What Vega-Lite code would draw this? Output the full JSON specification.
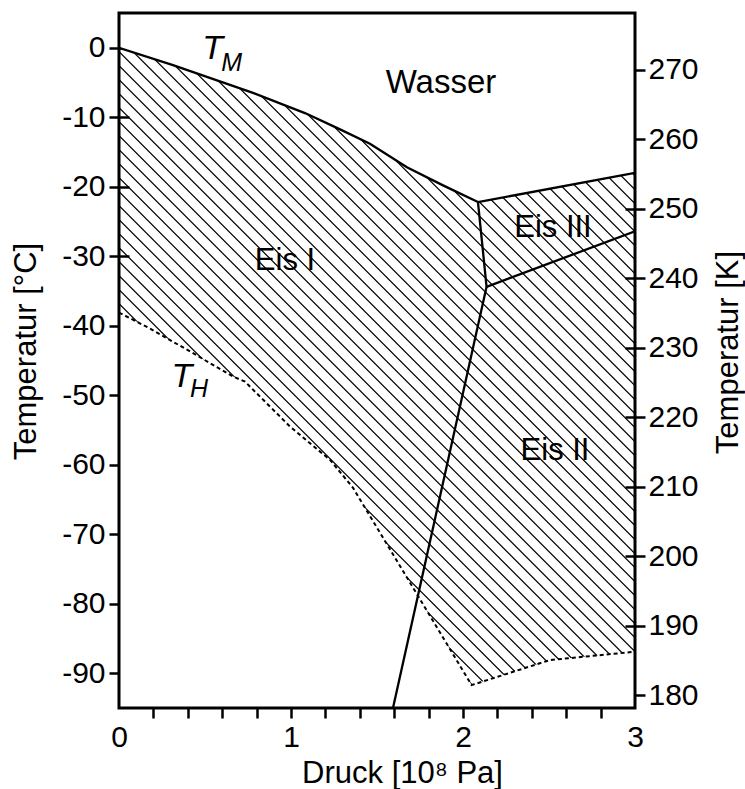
{
  "$schema": "https://vega.github.io/schema/vega-lite/v6.json",
  "width": 516,
  "height": 695,
  "autosize": {"type": "none"},
  "padding": {"left": 119, "top": 13, "right": 110, "bottom": 81},
  "background": "white",
  "view": {"stroke": null},
  "config": {
    "font": "Liberation Sans",
    "axis": {
      "domain": false,
      "grid": false,
      "tickSize": 20,
      "offset": -10,
      "tickColor": "black",
      "tickWidth": 2.5,
      "labelFontSize": 30,
      "labelColor": "black",
      "labelFlush": false,
      "labelOverlap": false,
      "titleFontSize": 31,
      "titleFontWeight": "normal",
      "titleColor": "black",
      "zindex": 1
    }
  },
  "datasets": {
    "hatch": [{"p": -0.308, "T": -89.75}, {"p": 3.308, "T": -0.25}],
    "upper": [
      {"p": 0, "T": 0}, {"p": 0.314, "T": -2.49}, {"p": 0.779, "T": -6.5}, {"p": 1.081, "T": -9.4},
      {"p": 1.273, "T": -11.6}, {"p": 1.459, "T": -13.8}, {"p": 1.674, "T": -17.2}, {"p": 1.884, "T": -19.8},
      {"p": 2.087, "T": -22.2}, {"p": 3, "T": -18.0}
    ],
    "th": [
      {"p": 0, "T": -38.1}, {"p": 0.18, "T": -40.4}, {"p": 0.413, "T": -43.7}, {"p": 0.663, "T": -47.3},
      {"p": 0.733, "T": -48.05}, {"p": 0.994, "T": -54.5}, {"p": 1.227, "T": -59.3}, {"p": 1.36, "T": -63.3},
      {"p": 2.05, "T": -91.7}, {"p": 2.506, "T": -88.1}, {"p": 3, "T": -86.9}
    ],
    "lines": [
      {"seg": "TM", "p": 0, "T": 0}, {"seg": "TM", "p": 0.314, "T": -2.49}, {"seg": "TM", "p": 0.779, "T": -6.5},
      {"seg": "TM", "p": 1.081, "T": -9.4}, {"seg": "TM", "p": 1.273, "T": -11.6}, {"seg": "TM", "p": 1.459, "T": -13.8},
      {"seg": "TM", "p": 1.674, "T": -17.2}, {"seg": "TM", "p": 1.884, "T": -19.8}, {"seg": "TM", "p": 2.087, "T": -22.2},
      {"seg": "IIIL", "p": 2.087, "T": -22.2}, {"seg": "IIIL", "p": 3, "T": -18.0},
      {"seg": "I_III", "p": 2.087, "T": -22.2}, {"seg": "I_III", "p": 2.137, "T": -34.4},
      {"seg": "II_III", "p": 2.137, "T": -34.4}, {"seg": "II_III", "p": 3, "T": -26.4},
      {"seg": "I_II", "p": 1.593, "T": -95}, {"seg": "I_II", "p": 2.137, "T": -34.4}
    ],
    "labels": [
      {"p": 0.965, "T": -31.98, "text": "Eis I"},
      {"p": 2.523, "T": -27.23, "text": "Eis III"},
      {"p": 2.535, "T": -59.3, "text": "Eis II"}
    ],
    "water": [{"p": 1.872, "T": -6.51, "text": "Wasser"}],
    "tsym": [{"p": 0.544, "T": -1.62, "text": "T"}, {"p": 0.366, "T": -48.8, "text": "T"}],
    "tsub": [{"p": 0.655, "T": -3.35, "text": "M"}, {"p": 0.465, "T": -50.25, "text": "H"}],
    "frame": [{}]
  },
  "resolve": {"axis": {"x": "independent", "y": "independent"}},
  "layer": [
    {
      "data": {"name": "hatch"},
      "mark": {"type": "line", "strokeWidth": 900, "strokeDash": [1.2, 8.7], "color": "black", "clip": true, "strokeCap": "butt"},
      "encoding": {
        "x": {
          "field": "p", "type": "quantitative",
          "scale": {"domain": [0, 3], "nice": false, "zero": false},
          "axis": {
            "orient": "bottom",
            "values": [0, 0.2, 0.4, 0.6, 0.8, 1, 1.2, 1.4, 1.6, 1.8, 2, 2.2, 2.4, 2.6, 2.8, 3],
            "labelExpr": "datum.value % 1 == 0 ? '' + datum.value : ''",
            "tickOpacity": {"condition": {"test": "datum.value == 0 || datum.value == 3", "value": 0}, "value": 1},
            "labelPadding": 4,
            "title": "Druck [10⁸ Pa]",
            "titleX": 283,
            "titleY": 84,
            "titleAlign": "center",
            "titleBaseline": "alphabetic"
          }
        },
        "y": {
          "field": "T", "type": "quantitative",
          "scale": {"domain": [-95, 5], "nice": false, "zero": false},
          "axis": {
            "orient": "left",
            "values": [0, -10, -20, -30, -40, -50, -60, -70, -80, -90],
            "labelExpr": "'' + datum.value",
            "labelPadding": 4,
            "title": "Temperatur [°C]",
            "titleAngle": 270,
            "titleX": -94,
            "titleY": 338,
            "titleAlign": "center",
            "titleBaseline": "alphabetic"
          }
        }
      }
    },
    {
      "data": {"name": "upper"},
      "mark": {"type": "area", "color": "white", "clip": true},
      "encoding": {
        "x": {"field": "p", "type": "quantitative", "axis": null},
        "y": {"field": "T", "type": "quantitative", "axis": null},
        "y2": {"datum": 5}
      }
    },
    {
      "data": {"name": "th"},
      "mark": {"type": "area", "color": "white", "clip": true},
      "encoding": {
        "x": {"field": "p", "type": "quantitative", "axis": null},
        "y": {
          "field": "T", "type": "quantitative",
          "axis": {
            "orient": "right",
            "values": [-93.15, -83.15, -73.15, -63.15, -53.15, -43.15, -33.15, -23.15, -13.15, -3.15],
            "labelExpr": "format(datum.value + 273.15, '.0f')",
            "labelPadding": 3,
            "title": "Temperatur [K]",
            "titleAngle": 270,
            "titleX": 112,
            "titleY": 339,
            "titleAlign": "center",
            "titleBaseline": "alphabetic"
          }
        },
        "y2": {"datum": -95}
      }
    },
    {
      "data": {"name": "lines"},
      "mark": {"type": "line", "color": "black", "strokeWidth": 2.3, "clip": true},
      "encoding": {
        "x": {"field": "p", "type": "quantitative", "axis": null},
        "y": {"field": "T", "type": "quantitative", "axis": null},
        "detail": {"field": "seg"}
      }
    },
    {
      "data": {"name": "th"},
      "mark": {"type": "line", "color": "black", "strokeWidth": 2, "strokeDash": [4, 3], "clip": true},
      "encoding": {
        "x": {"field": "p", "type": "quantitative", "axis": null},
        "y": {"field": "T", "type": "quantitative", "axis": null}
      }
    },
    {
      "data": {"name": "frame"},
      "mark": {"type": "rect", "filled": false, "stroke": "black", "strokeWidth": 3},
      "encoding": {
        "x": {"datum": 0, "type": "quantitative", "axis": null},
        "x2": {"datum": 3},
        "y": {"datum": -95, "type": "quantitative", "axis": null},
        "y2": {"datum": 5}
      }
    },
    {
      "data": {"name": "labels"},
      "mark": {"type": "text", "fontSize": 31, "color": "black", "align": "center", "baseline": "alphabetic"},
      "encoding": {
        "x": {"field": "p", "type": "quantitative", "axis": null},
        "y": {"field": "T", "type": "quantitative", "axis": null},
        "text": {"field": "text"}
      }
    },
    {
      "data": {"name": "water"},
      "mark": {"type": "text", "fontSize": 33, "color": "black", "align": "center", "baseline": "alphabetic"},
      "encoding": {
        "x": {"field": "p", "type": "quantitative", "axis": null},
        "y": {"field": "T", "type": "quantitative", "axis": null},
        "text": {"field": "text"}
      }
    },
    {
      "data": {"name": "tsym"},
      "mark": {"type": "text", "fontSize": 34, "fontStyle": "italic", "color": "black", "align": "center", "baseline": "alphabetic"},
      "encoding": {
        "x": {"field": "p", "type": "quantitative", "axis": null},
        "y": {"field": "T", "type": "quantitative", "axis": null},
        "text": {"field": "text"}
      }
    },
    {
      "data": {"name": "tsub"},
      "mark": {"type": "text", "fontSize": 25, "fontStyle": "italic", "color": "black", "align": "center", "baseline": "alphabetic"},
      "encoding": {
        "x": {"field": "p", "type": "quantitative", "axis": null},
        "y": {"field": "T", "type": "quantitative", "axis": null},
        "text": {"field": "text"}
      }
    }
  ]
}
